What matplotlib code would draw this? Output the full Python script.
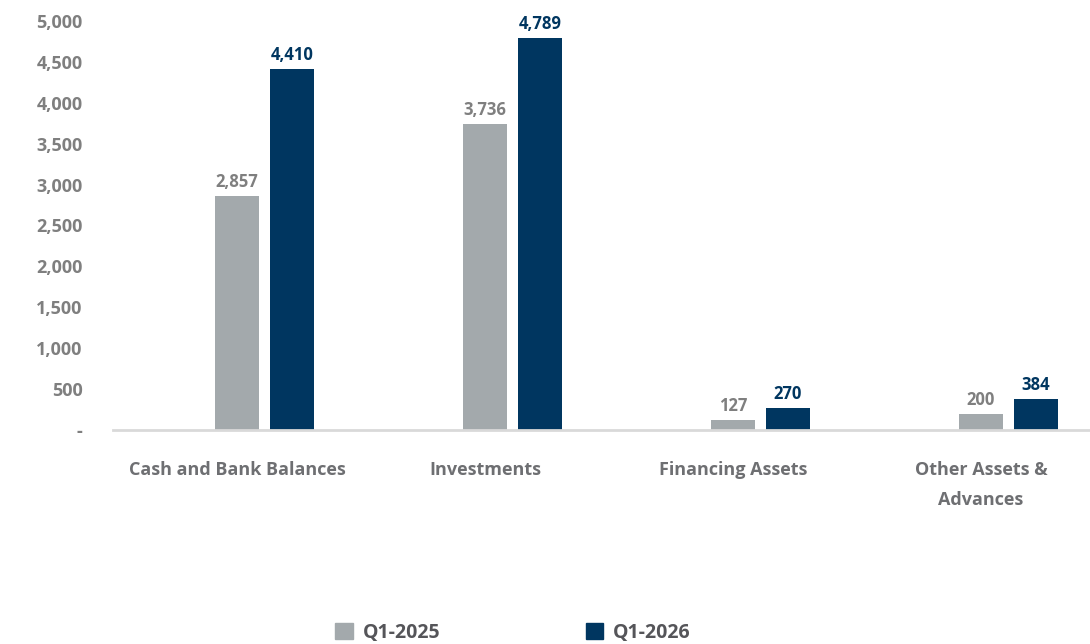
import matplotlib.pyplot as plt
import numpy as np
from matplotlib.patches import Patch

categories = ["Cash and Bank Balances", "Investments", "Financing Assets", "Other Assets &\nAdvances"]
q1_2025 = [2857, 3736, 127, 200]
q1_2026 = [4410, 4789, 270, 384]
yticks = [0, 500, 1000, 1500, 2000, 2500, 3000, 3500, 4000, 4500, 5000]

GRAY = "#A3A9AC"
NAVY = "#003660"
TXT = "#6E6F72"

plt.rcParams['font.family'] = ['Open Sans', 'DejaVu Sans']

fig = plt.figure(figsize=(10.9, 6.44), dpi=100)
ax = fig.add_axes([113 / 1090, 214 / 644, 977 / 1090, 409 / 644])

x = np.arange(len(categories))
w = 0.177
off = 0.222
b1 = ax.bar(x, q1_2025, w, color=GRAY)
b2 = ax.bar(x + off, q1_2026, w, color=NAVY)

for r, v in zip(b1, q1_2025):
    ax.text(r.get_x() + r.get_width() / 2, v + 60, f"{v:,}", ha="center", va="bottom",
            fontsize=12, fontweight="bold", color="#7F7F7F")
for r, v in zip(b2, q1_2026):
    ax.text(r.get_x() + r.get_width() / 2, v + 60, f"{v:,}", ha="center", va="bottom",
            fontsize=12, fontweight="bold", color=NAVY)

ax.set_xlim(-0.5, 3.44)
ax.set_ylim(0, 5000)
ax.set_yticks(yticks)
ax.set_yticklabels(["-" if t == 0 else f"{t:,}" for t in yticks],
                   fontsize=13, fontweight="bold", color="#7F7F7F")
ax.set_xticks(x)
ax.set_xticklabels(categories, fontsize=13, fontweight="bold", color=TXT, linespacing=1.9, va="top")
ax.tick_params(axis="y", length=0, pad=22)
ax.tick_params(axis="x", length=0, pad=22)

for s in ["top", "right", "left"]:
    ax.spines[s].set_visible(False)
ax.spines["bottom"].set_color("#D9D9D9")
ax.spines["bottom"].set_linewidth(2)

handles = [Patch(color=GRAY, label="Q1-2025"), Patch(color=NAVY, label="Q1-2026")]
fig.legend(handles=handles, loc="center", bbox_to_anchor=(513 / 1090, 1 - 633 / 644), ncol=2,
           frameon=False, handlelength=0.9, handleheight=0.9, columnspacing=7.5, handletextpad=0.5,
           prop={"size": 14, "weight": "bold"}, labelcolor="#555559")

fig.savefig("out.png", dpi=100)
